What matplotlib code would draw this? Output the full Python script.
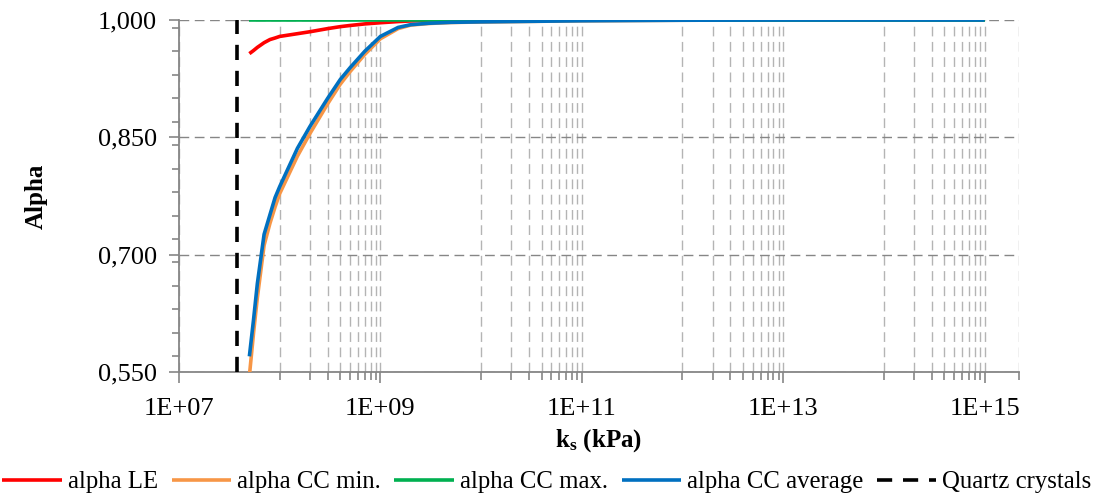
import math
import matplotlib
matplotlib.use("Agg")
import matplotlib.pyplot as plt
from matplotlib.ticker import FixedLocator, FuncFormatter, MultipleLocator, NullFormatter

# Solid-phase bulk modulus (kPa) and Biot coefficient estimates
ks = [5e7, 5.5e7, 6e7, 7e7, 8e7, 9e7, 1e8, 1.5e8, 2e8, 3e8, 4e8, 5e8, 7e8,
      1e9, 1.5e9, 2e9, 3e9, 5e9, 1e10, 1e11, 1e12, 1e13, 1e14, 1e15]
alpha_le = [0.957, 0.961, 0.965, 0.971, 0.975, 0.977, 0.979, 0.9825, 0.985,
            0.989, 0.9915, 0.993, 0.995, 0.9965, 0.998, 0.9988, 0.9993,
            0.9996, 0.9998, 1.0, 1.0, 1.0, 1.0, 1.0]
alpha_cc_min = [0.545, 0.600, 0.645, 0.712, 0.740, 0.761, 0.778, 0.826, 0.855,
                0.893, 0.918, 0.934, 0.956, 0.976, 0.989, 0.9935, 0.9955,
                0.9968, 0.9975, 0.999, 0.9997, 1.0, 1.0, 1.0]
alpha_cc_max = [1.0] * len(ks)
alpha_cc_avg = [0.570, 0.617, 0.663, 0.726, 0.751, 0.773, 0.787, 0.836, 0.864,
                0.900, 0.924, 0.939, 0.960, 0.979, 0.9905, 0.994, 0.9958,
                0.997, 0.9976, 0.999, 0.9997, 1.0, 1.0, 1.0]
quartz_ks = 3.8e7

series_labels = ["alpha LE", "alpha CC min.", "alpha CC max.", "alpha CC average"]
series_colors = ["#FF0000", "#F79646", "#00B050", "#0070C0"]
quartz_label = "Quartz crystals"

x_major = [1e7, 1e9, 1e11, 1e13, 1e15]
x_limits = (1e7, 2.2e15)
y_major = [0.55, 0.70, 0.85, 1.00]

plt.rcParams["font.family"] = ["Liberation Serif", "DejaVu Serif"]
plt.rcParams["mathtext.fontset"] = "custom"
plt.rcParams["mathtext.rm"] = "Liberation Serif"
plt.rcParams["mathtext.bf"] = "Liberation Serif:bold"

fig = plt.figure(figsize=(10.94, 4.97), dpi=100)
ax = fig.add_axes([179 / 1094, 1 - 372 / 497, (1019 - 179) / 1094, (372 - 20) / 497])

grid_dark = "#868686"
grid_light = "#B4B4B4"
axis_grey = "#868686"

for vals, lab, col in zip([alpha_le, alpha_cc_min, alpha_cc_max, alpha_cc_avg],
                          series_labels, series_colors):
    ax.plot(ks, vals, color=col, lw=2.6, label=lab, solid_capstyle="butt",
            solid_joinstyle="round", zorder=3)

ax.axvline(quartz_ks, color="black", lw=2.6, dashes=(4.2, 3.0), label=quartz_label, zorder=4)

ax.set_xscale("log")
ax.set_xlim(*x_limits)
ax.set_ylim(y_major[0], y_major[-1])

# Minor decades: 1..9 x 10^odd plus the right end of the axis
x_minor = [k * 10.0 ** e for e in (8, 10, 12, 14) for k in range(1, 10)] + [x_limits[1]]
ax.xaxis.set_major_locator(FixedLocator(x_major))
ax.xaxis.set_minor_locator(FixedLocator(x_minor))
ax.xaxis.set_major_formatter(FuncFormatter(lambda v, p: "1E+%02d" % round(math.log10(v))))
ax.xaxis.set_minor_formatter(NullFormatter())

ax.yaxis.set_major_locator(FixedLocator(y_major))
ax.yaxis.set_minor_locator(MultipleLocator(0.03))
ax.yaxis.set_major_formatter(FuncFormatter(lambda v, p: ("%.3f" % v).replace(".", ",")))

ax.grid(which="major", axis="y", color=grid_dark, lw=1.0, dashes=(7, 4))
ax.grid(which="both", axis="x", color=grid_light, lw=1.0, dashes=(7, 4))
ax.set_axisbelow(True)

for s in ("top", "right"):
    ax.spines[s].set_visible(False)
for s in ("left", "bottom"):
    ax.spines[s].set_color(axis_grey)
    ax.spines[s].set_linewidth(1.3)

ax.tick_params(axis="both", which="both", direction="out", color=axis_grey, width=1.2)
ax.tick_params(axis="y", which="major", length=7, pad=9, labelsize=19)
ax.tick_params(axis="y", which="minor", length=5)
ax.tick_params(axis="x", which="major", length=8, pad=11, labelsize=19)
ax.tick_params(axis="x", which="minor", length=6)

ax.set_ylabel("Alpha", fontsize=18, fontweight="bold", labelpad=36)
ax.set_xlabel(r"$\mathbf{k_s}$ (kPa)", fontsize=18, fontweight="bold", labelpad=5)

handles, labels = ax.get_legend_handles_labels()
fig.legend(handles, labels, loc="center", bbox_to_anchor=(0.5, 1 - 482 / 497),
           ncol=5, frameon=False, fontsize=17.8, handlelength=2.4,
           handletextpad=0.25, columnspacing=0.55, borderaxespad=0, borderpad=0)

fig.savefig("out.png", dpi=100)
